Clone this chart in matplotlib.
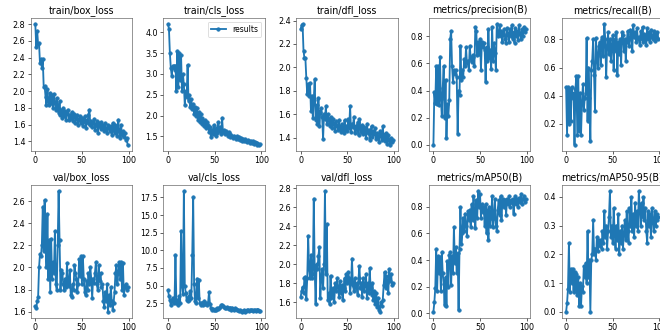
import matplotlib
matplotlib.use("Agg")
import matplotlib.pyplot as plt
import numpy as np

# epochs 0..99
epochs = list(range(100))

titles = ["train/box_loss", "train/cls_loss", "train/dfl_loss", "metrics/precision(B)", "metrics/recall(B)",
          "val/box_loss", "val/cls_loss", "val/dfl_loss", "metrics/mAP50(B)", "metrics/mAP50-95(B)"]

train_box_loss = [2.80, 2.53, 2.72, 2.56, 2.57, 2.33, 2.38, 2.28, 2.38, 2.05,
                  2.06, 1.93, 1.83, 2.03, 1.88, 1.83, 1.98, 1.86, 1.95, 1.80,
                  1.97, 1.86, 1.78, 1.92, 1.80, 1.74, 1.88, 1.72, 1.78, 1.68,
                  1.80, 1.70, 1.76, 1.66, 1.74, 1.78, 1.65, 1.72, 1.68, 1.75,
                  1.64, 1.70, 1.73, 1.62, 1.68, 1.72, 1.60, 1.66, 1.70, 1.62,
                  1.68, 1.58, 1.64, 1.70, 1.56, 1.66, 1.62, 1.72, 1.78, 1.60,
                  1.64, 1.57, 1.62, 1.67, 1.54, 1.60, 1.64, 1.50, 1.62, 1.58,
                  1.55, 1.63, 1.56, 1.60, 1.52, 1.62, 1.55, 1.50, 1.60, 1.56,
                  1.52, 1.58, 1.48, 1.62, 1.54, 1.50, 1.60, 1.56, 1.46, 1.66,
                  1.52, 1.44, 1.60, 1.48, 1.52, 1.45, 1.50, 1.42, 1.44, 1.36]

train_cls_loss = [4.20, 4.08, 3.50, 3.15, 2.95, 3.20, 3.18, 3.10, 3.20, 2.60,
                  3.55, 2.68, 3.50, 2.85, 3.45, 2.60, 3.00, 2.75, 2.25, 2.60,
                  2.45, 3.22, 2.35, 2.50, 2.20, 2.40, 2.15, 2.28, 2.05, 2.20,
                  2.00, 2.18, 1.90, 2.08, 1.85, 2.05, 1.80, 1.95, 1.88, 1.75,
                  1.90, 1.70, 1.85, 1.78, 1.60, 1.72, 1.48, 1.66, 1.55, 1.78,
                  1.62, 1.50, 1.70, 1.58, 1.85, 1.62, 1.72, 1.55, 1.95, 1.60,
                  1.65, 1.55, 1.62, 1.58, 1.52, 1.60, 1.55, 1.48, 1.52, 1.50,
                  1.46, 1.52, 1.48, 1.45, 1.50, 1.44, 1.48, 1.42, 1.46, 1.40,
                  1.45, 1.42, 1.38, 1.44, 1.40, 1.36, 1.42, 1.38, 1.35, 1.40,
                  1.34, 1.38, 1.32, 1.36, 1.34, 1.30, 1.35, 1.32, 1.30, 1.31]

train_dfl_loss = [2.33, 2.36, 2.37, 2.14, 2.08, 2.08, 1.91, 1.77, 1.86, 1.76,
                  1.87, 1.63, 1.76, 1.57, 1.72, 1.90, 1.55, 1.68, 1.52, 1.74,
                  1.50, 1.62, 1.65, 1.58, 1.39, 1.60, 1.56, 1.67, 1.52, 1.60,
                  1.55, 1.50, 1.58, 1.53, 1.48, 1.56, 1.52, 1.46, 1.54, 1.50,
                  1.47, 1.55, 1.49, 1.45, 1.52, 1.48, 1.44, 1.55, 1.47, 1.50,
                  1.46, 1.56, 1.48, 1.67, 1.45, 1.52, 1.49, 1.58, 1.44, 1.50,
                  1.47, 1.53, 1.42, 1.56, 1.48, 1.45, 1.51, 1.43, 1.49, 1.46,
                  1.40, 1.52, 1.44, 1.47, 1.38, 1.45, 1.50, 1.41, 1.46, 1.43,
                  1.48, 1.39, 1.44, 1.41, 1.36, 1.46, 1.42, 1.38, 1.50, 1.40,
                  1.37, 1.44, 1.39, 1.35, 1.42, 1.38, 1.34, 1.40, 1.36, 1.38]

precision = [0.00, 0.39, 0.31, 0.58, 0.30, 0.58, 0.29, 0.65, 0.34, 0.21,
             0.42, 0.58, 0.20, 0.48, 0.05, 0.30, 0.21, 0.33, 0.78, 0.84,
             0.58, 0.46, 0.55, 0.52, 0.55, 0.50, 0.08, 0.40, 0.37, 0.73,
             0.48, 0.55, 0.50, 0.63, 0.58, 0.72, 0.60, 0.62, 0.55, 0.73,
             0.64, 0.61, 0.66, 0.65, 0.58, 0.87, 0.84, 0.66, 0.76, 0.67,
             0.78, 0.55, 0.76, 0.72, 0.75, 0.70, 0.46, 0.72, 0.62, 0.85,
             0.64, 0.70, 0.56, 0.87, 0.62, 0.75, 0.68, 0.55, 0.89, 0.80,
             0.82, 0.88, 0.80, 0.84, 0.76, 0.82, 0.85, 0.78, 0.75, 0.86,
             0.82, 0.76, 0.85, 0.80, 0.88, 0.78, 0.83, 0.75, 0.86, 0.80,
             0.84, 0.77, 0.88, 0.82, 0.78, 0.85, 0.80, 0.87, 0.83, 0.85]

recall = [0.46, 0.12, 0.46, 0.20, 0.45, 0.22, 0.46, 0.38, 0.42, 0.05,
          0.45, 0.54, 0.12, 0.54, 0.15, 0.42, 0.12, 0.35, 0.48, 0.30,
          0.38, 0.42, 0.81, 0.22, 0.60, 0.38, 0.08, 0.58, 0.65, 0.80,
          0.55, 0.29, 0.81, 0.68, 0.60, 0.75, 0.78, 0.62, 0.80, 0.82,
          0.68, 0.91, 0.80, 0.53, 0.75, 0.85, 0.70, 0.80, 0.65, 0.76,
          0.83, 0.58, 0.80, 0.72, 0.85, 0.55, 0.78, 0.70, 0.80, 0.62,
          0.85, 0.83, 0.72, 0.80, 0.65, 0.78, 0.86, 0.80, 0.75, 0.87,
          0.84, 0.72, 0.90, 0.82, 0.85, 0.78, 0.88, 0.80, 0.82, 0.76,
          0.86, 0.80, 0.89, 0.78, 0.84, 0.82, 0.76, 0.88, 0.80, 0.85,
          0.78, 0.87, 0.82, 0.80, 0.86, 0.79, 0.84, 0.81, 0.85, 0.80]

val_box_loss = [1.65, 1.63, 1.70, 1.73, 2.00, 2.12, 2.10, 2.20, 2.55, 2.15,
                2.61, 2.20, 2.00, 2.48, 1.90, 2.25, 1.78, 2.26, 1.90, 2.05,
                1.95, 2.33, 1.85, 1.80, 2.20, 2.69, 2.25, 1.80, 1.98, 1.95,
                1.85, 1.80, 1.90, 1.82, 2.04, 1.85, 1.83, 1.98, 1.75, 1.73,
                1.85, 1.80, 2.02, 1.95, 1.90, 1.78, 1.85, 2.08, 1.92, 2.10,
                1.85, 2.10, 1.90, 1.78, 1.75, 1.88, 1.80, 1.95, 1.85, 2.00,
                1.90, 1.72, 1.90, 1.86, 1.95, 2.05, 1.85, 1.80, 2.02, 1.88,
                1.95, 1.82, 1.85, 1.70, 1.64, 1.78, 1.70, 1.85, 1.60, 1.75,
                1.66, 1.82, 1.70, 1.62, 1.68, 1.78, 1.95, 2.02, 1.85, 1.95,
                2.05, 1.90, 2.05, 1.80, 2.04, 1.75, 1.82, 1.85, 1.80, 1.82]

val_cls_loss = [4.4, 3.5, 3.0, 2.2, 2.8, 3.3, 2.5, 2.9, 9.3, 2.5,
                3.0, 2.2, 3.5, 2.6, 12.7, 5.0, 3.8, 18.4, 5.0, 4.0,
                3.0, 2.8, 3.5, 3.0, 4.2, 3.2, 9.4, 17.5, 5.2, 2.8,
                2.5, 6.0, 3.2, 5.8, 2.6, 2.3, 2.6, 2.5, 2.3, 2.8,
                2.4, 2.5, 2.2, 2.6, 4.1, 2.4, 1.8, 1.6, 1.7, 1.5,
                1.6, 1.7, 1.5, 1.8, 1.7, 1.9, 2.0, 2.2, 2.3, 2.1,
                2.0, 1.9, 1.8, 2.0, 1.8, 1.7, 1.9, 1.8, 1.6, 1.9,
                1.7, 1.6, 1.8, 1.7, 1.5, 1.6, 1.4, 1.5, 1.4, 1.3,
                1.4, 1.5, 1.4, 1.3, 1.4, 1.5, 1.6, 1.4, 1.5, 1.6,
                1.5, 1.4, 1.6, 1.5, 1.4, 1.5, 1.6, 1.5, 1.4, 1.4]

val_dfl_loss = [1.66, 1.72, 1.76, 1.70, 1.86, 1.87, 1.63, 1.85, 2.30, 1.95,
                1.85, 2.10, 1.85, 1.90, 2.69, 1.95, 1.58, 2.00, 1.95, 2.09,
                2.18, 1.65, 1.85, 1.95, 1.75, 2.00, 2.77, 1.90, 2.42, 1.62,
                1.70, 1.58, 1.88, 1.65, 1.70, 1.75, 1.60, 1.80, 1.72, 1.85,
                1.76, 1.66, 1.82, 1.70, 1.78, 1.62, 1.75, 1.85, 1.72, 1.90,
                1.80, 1.92, 1.85, 1.70, 1.80, 2.06, 1.78, 1.72, 1.85, 1.75,
                1.80, 1.68, 1.85, 1.98, 1.75, 1.80, 1.66, 1.85, 1.72, 1.78,
                1.90, 1.65, 1.80, 1.70, 1.96, 1.75, 1.68, 1.80, 1.62, 1.72,
                1.58, 1.70, 1.55, 1.65, 1.52, 1.50, 1.60, 1.56, 1.62, 1.78,
                1.92, 1.75, 1.88, 1.80, 1.70, 1.95, 1.82, 1.90, 1.78, 1.80]

mAP50 = [0.01, 0.08, 0.19, 0.48, 0.17, 0.43, 0.30, 0.42, 0.17, 0.46,
         0.30, 0.22, 0.06, 0.27, 0.05, 0.39, 0.20, 0.44, 0.46, 0.21,
         0.43, 0.30, 0.65, 0.38, 0.50, 0.30, 0.45, 0.02, 0.48, 0.80,
         0.52, 0.60, 0.72, 0.62, 0.75, 0.66, 0.58, 0.77, 0.70, 0.78,
         0.65, 0.82, 0.70, 0.88, 0.75, 0.64, 0.85, 0.72, 0.92, 0.80,
         0.90, 0.72, 0.82, 0.76, 0.80, 0.66, 0.82, 0.60, 0.78, 0.55,
         0.80, 0.66, 0.72, 0.88, 0.65, 0.72, 0.86, 0.66, 0.62, 0.78,
         0.85, 0.74, 0.88, 0.70, 0.84, 0.86, 0.80, 0.85, 0.74, 0.86,
         0.82, 0.88, 0.80, 0.85, 0.83, 0.86, 0.75, 0.84, 0.88, 0.82,
         0.86, 0.80, 0.87, 0.84, 0.90, 0.82, 0.86, 0.88, 0.84, 0.86]

mAP50_95 = [0.00, 0.03, 0.08, 0.24, 0.07, 0.15, 0.10, 0.15, 0.07, 0.14,
            0.08, 0.13, 0.06, 0.12, 0.02, 0.10, 0.02, 0.09, 0.07, 0.16,
            0.12, 0.17, 0.10, 0.28, 0.12, 0.18, 0.00, 0.18, 0.20, 0.32,
            0.20, 0.22, 0.18, 0.26, 0.21, 0.25, 0.23, 0.25, 0.22, 0.28,
            0.24, 0.35, 0.26, 0.30, 0.22, 0.28, 0.33, 0.42, 0.26, 0.30,
            0.24, 0.36, 0.28, 0.22, 0.30, 0.25, 0.34, 0.20, 0.28, 0.24,
            0.30, 0.22, 0.27, 0.32, 0.25, 0.35, 0.28, 0.24, 0.36, 0.30,
            0.40, 0.28, 0.34, 0.26, 0.38, 0.30, 0.35, 0.28, 0.42, 0.36,
            0.30, 0.38, 0.33, 0.40, 0.32, 0.36, 0.28, 0.24, 0.35, 0.30,
            0.34, 0.26, 0.36, 0.32, 0.28, 0.35, 0.30, 0.34, 0.32, 0.33]

series = [train_box_loss, train_cls_loss, train_dfl_loss, precision, recall,
          val_box_loss, val_cls_loss, val_dfl_loss, mAP50, mAP50_95]

# figure is the left part of a 12x6 yolo results grid
fig = plt.figure(figsize=(12, 331 / 55), dpi=55)
W, H = 660.0, 331.0
ax_w = 101.5
ax_step = 132.7
rows_top = [18.0, 185.0]
ax_h = 132.8

for i, (name, y) in enumerate(zip(titles, series)):
    r, c = divmod(i, 5)
    left = (30.7 + c * ax_step) / W
    bottom = 1 - (rows_top[r] + ax_h) / H
    ax = fig.add_axes([left, bottom, ax_w / W, ax_h / H])
    ax.plot(epochs, y, marker=".", label="results", linewidth=2.4, markersize=9)
    ax.set_title(name, fontsize=12.5)
    ax.tick_params(labelsize=10.5)
    for sp in ax.spines.values():
        sp.set_color("#555555")
    if i == 1:
        ax.legend(fontsize=10)

fig.savefig("out.png", dpi=55)
